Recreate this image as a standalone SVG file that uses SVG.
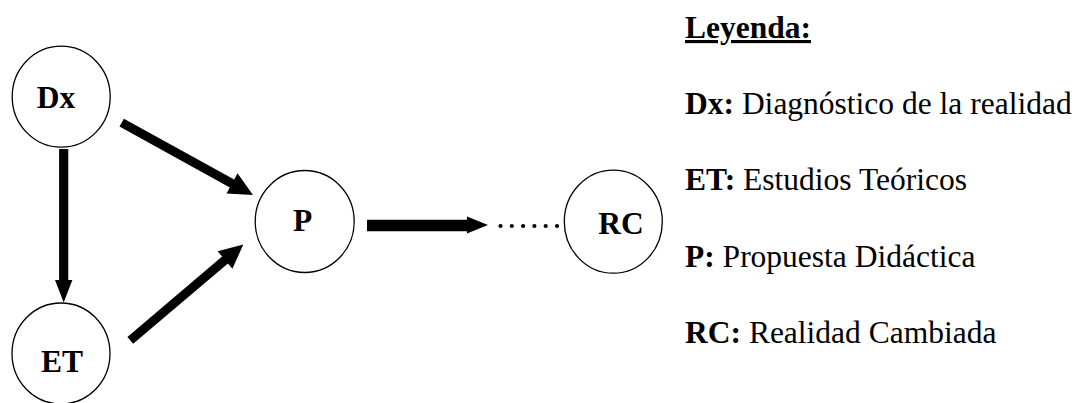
<svg xmlns="http://www.w3.org/2000/svg" width="1082" height="403" viewBox="0 0 1082 403">
<style>
.node{fill:#fff;stroke:#000;stroke-width:1.3}
.lbl{font-family:"Liberation Serif","Times New Roman",serif;font-weight:bold;font-size:31.5px;fill:#000}
.leg{font-family:"Liberation Serif","Times New Roman",serif;font-size:31.5px;fill:#000}
.b{font-weight:bold}
.arrow{fill:#000;stroke:none}
.dot{fill:#000}
</style>
<rect width="1082" height="403" fill="#fff"/>
<g id="connectors">
<polygon class="arrow" points="59.1,149 68.3,149 68.3,280 72.4,280 63.7,302.5 55,280 59.1,280"/>
<polygon class="arrow" points="123.9,118.8 234.2,179.5 237.5,173.3 253,195 226.5,193.5 229.8,187.4 119.5,126.6"/>
<polygon class="arrow" points="127.4,336.9 222.1,256.6 217.6,251.2 243.3,244.5 232.4,268.8 227.9,263.4 133.2,343.7"/>
<polygon class="arrow" points="367,219.8 467,219.8 467,216.5 488,225 467,233.5 467,231.3 367,231.3"/>
<g class="dot">
<circle cx="500.5" cy="226" r="2.1"/>
<circle cx="511.8" cy="226" r="2.1"/>
<circle cx="523.1" cy="226" r="2.1"/>
<circle cx="534.4" cy="226" r="2.1"/>
<circle cx="545.7" cy="226" r="2.1"/>
<circle cx="557" cy="226" r="2.1"/>
</g>
</g>
<g id="node-Dx">
<ellipse class="node" cx="61.2" cy="96.7" rx="49" ry="50.5"/>
<text class="lbl" x="36.7" y="108">Dx</text>
</g>
<g id="node-ET">
<ellipse class="node" cx="61" cy="353.5" rx="49" ry="50.5"/>
<text class="lbl" x="41" y="372">ET</text>
</g>
<g id="node-P">
<ellipse class="node" cx="304.7" cy="221.5" rx="49.5" ry="51"/>
<text class="lbl" x="293" y="231">P</text>
</g>
<g id="node-RC">
<ellipse class="node" cx="613.3" cy="221.7" rx="49" ry="51.5"/>
<text class="lbl" x="598.3" y="234">RC</text>
</g>
<g id="legend">
<text class="leg b" x="685" y="38" text-decoration="underline">Leyenda:</text>
<text class="leg" x="685" y="114"><tspan class="b">Dx:</tspan> Diagnóstico de la realidad</text>
<text class="leg" x="685" y="190"><tspan class="b">ET:</tspan> Estudios Teóricos</text>
<text class="leg" x="685" y="267"><tspan class="b">P:</tspan> Propuesta Didáctica</text>
<text class="leg" x="685" y="343"><tspan class="b">RC:</tspan> Realidad Cambiada</text>
</g>
</svg>
